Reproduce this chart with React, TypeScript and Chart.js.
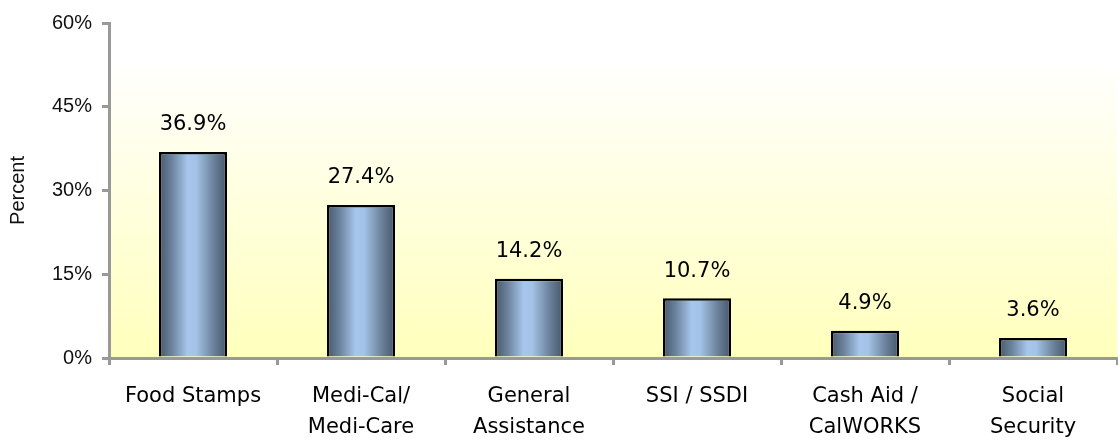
import React, { useEffect, useRef } from "react";
import { Chart, registerables } from "chart.js";

Chart.register(...registerables);

const categories: string[][] = [
  ["Food Stamps"],
  ["Medi-Cal/", "Medi-Care"],
  ["General", "Assistance"],
  ["SSI / SSDI"],
  ["Cash Aid /", "CalWORKS"],
  ["Social", "Security"],
];
const values: number[] = [36.9, 27.4, 14.2, 10.7, 4.9, 3.6];
const yTicks: number[] = [0, 15, 30, 45, 60];
const yTitle = "Percent";

const BAR_PCT = 0.405;
const LABEL_FONT = "'DejaVu Sans', Verdana, sans-serif";

const bgPlugin = {
  id: "plotBg",
  beforeDraw(chart: any) {
    const { ctx, chartArea } = chart;
    if (!chartArea) return;
    const g = ctx.createLinearGradient(0, chartArea.top, 0, chartArea.bottom);
    g.addColorStop(0, "#ffffff");
    g.addColorStop(0.1, "#ffffff");
    g.addColorStop(1, "#ffffbc");
    ctx.save();
    ctx.fillStyle = g;
    ctx.fillRect(chartArea.left, chartArea.top, chartArea.right - chartArea.left, chartArea.bottom - chartArea.top);
    ctx.restore();
  },
};

const labelPlugin = {
  id: "valueLabels",
  afterDatasetsDraw(chart: any) {
    const ctx = chart.ctx;
    const meta = chart.getDatasetMeta(0);
    ctx.save();
    ctx.font = "21px " + LABEL_FONT;
    ctx.fillStyle = "#000";
    ctx.textAlign = "center";
    ctx.textBaseline = "middle";
    meta.data.forEach((el: any, i: number) => {
      ctx.fillText(values[i].toFixed(1) + "%", el.x, el.y - 27);
    });
    ctx.restore();
  },
};

export default function App() {
  const ref = useRef<HTMLCanvasElement | null>(null);
  useEffect(() => {
    if (!ref.current) return;
    const chart = new Chart(ref.current, {
      type: "bar",
      data: {
        labels: categories,
        datasets: [
          {
            data: values,
            backgroundColor: (c: any) => {
              const chartObj = c.chart;
              const xs = chartObj.scales?.x;
              if (c.dataIndex === undefined || !xs) return "#8aa8c8";
              const cx = xs.getPixelForValue(c.dataIndex);
              const w = (xs.width / categories.length) * BAR_PCT;
              if (!isFinite(cx) || !isFinite(w) || w <= 0) return "#8aa8c8";
              const g = chartObj.ctx.createLinearGradient(cx - w / 2, 0, cx + w / 2, 0);
              g.addColorStop(0, "#485870");
              g.addColorStop(0.18, "#6a809a");
              g.addColorStop(0.42, "#a6c6ec");
              g.addColorStop(0.55, "#a2c2e6");
              g.addColorStop(0.82, "#687d96");
              g.addColorStop(1, "#46566c");
              return g;
            },
            borderColor: "#000000",
            borderWidth: 2.5,
            categoryPercentage: 1,
            barPercentage: BAR_PCT,
          },
        ],
      },
      options: {
        responsive: false,
        animation: false,
        layout: { padding: { top: 23, right: 1, left: 0, bottom: 0 } },
        plugins: {
          legend: { display: false },
          tooltip: { enabled: false },
        },
        scales: {
          x: {
            grid: {
              drawOnChartArea: false,
              drawTicks: true,
              tickLength: 7,
              color: "#999999",
              lineWidth: 3,
            },
            border: { color: "#999999", width: 3 },
            ticks: {
              color: "#000",
              padding: 16,
              maxRotation: 0,
              autoSkip: false,
              font: { family: LABEL_FONT, size: 21, lineHeight: 1.48 },
            },
            afterFit: (s: any) => {
              s.height = 83;
            },
          },
          y: {
            min: 0,
            max: 60,
            afterBuildTicks: (s: any) => {
              s.ticks = yTicks.map((v) => ({ value: v }));
            },
            grid: {
              drawOnChartArea: false,
              drawTicks: true,
              tickLength: 7,
              color: "#999999",
              lineWidth: 3,
            },
            border: { color: "#999999", width: 3 },
            ticks: {
              color: "#111",
              padding: 10,
              callback: (v: any) => v + "%",
              font: { family: "'Liberation Sans', Arial, sans-serif", size: 20 },
            },
            title: {
              display: true,
              text: yTitle,
              color: "#111",
              padding: { top: 6, bottom: 0 },
              font: { family: "'Liberation Sans', Arial, sans-serif", size: 20 },
            },
            afterFit: (s: any) => {
              s.width = 109;
            },
          },
        },
      },
      plugins: [bgPlugin, labelPlugin],
    });
    return () => chart.destroy();
  }, []);
  return (
    <div style={{ position: "absolute", left: 0, top: 0, width: 1118, height: 441, background: "#fff" }}>
      <canvas ref={ref} width={1118} height={441} style={{ display: "block" }} />
    </div>
  );
}
